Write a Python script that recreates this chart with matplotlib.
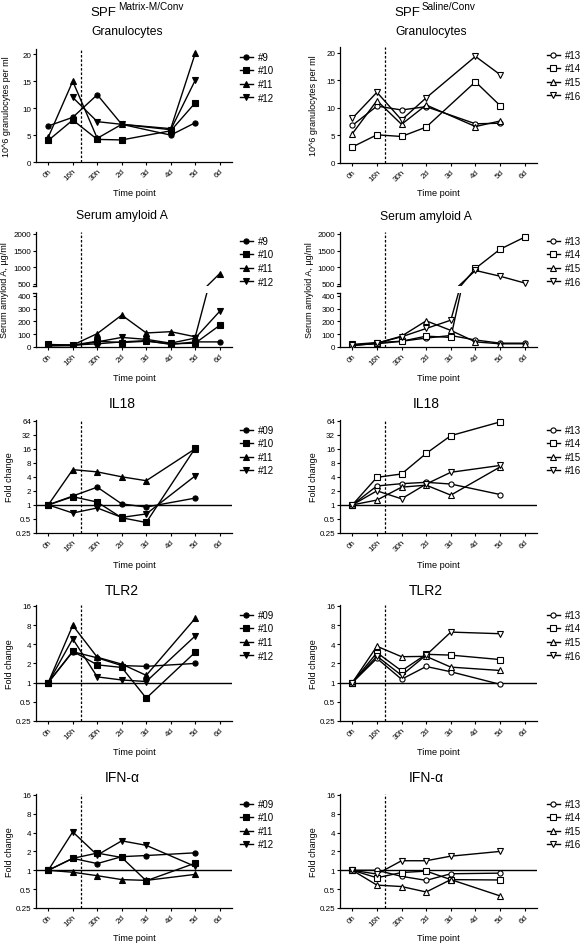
import numpy as np
import matplotlib
matplotlib.use('Agg')
import matplotlib.pyplot as plt
from matplotlib.lines import Line2D

plt.rcParams['font.family'] = ['Liberation Sans', 'DejaVu Sans']

nan = np.nan
W, H = 585, 945

time_points = ['0h', '16h', '30h', '2d', '3d', '4d', '5d', '6d']
ids_left_a = ['#9', '#10', '#11', '#12']
ids_left_b = ['#09', '#10', '#11', '#12']
ids_right = ['#13', '#14', '#15', '#16']

# Granulocytes (10^6 per ml)
gran_left = [
    [6.7, 8.3, 12.5, 7.0, nan, 5.0, 7.3, nan],
    [4.0, 7.8, 4.2, 4.1, nan, 5.8, 11.0, nan],
    [4.6, 15.0, 4.4, 7.0, nan, 6.2, 20.2, nan],
    [nan, 12.0, 7.5, 7.0, nan, 6.0, 15.2, nan],
]
gran_right = [
    [6.8, 10.3, 9.6, 10.2, nan, 7.1, 7.2, nan],
    [2.9, 5.1, 4.8, 6.5, nan, 14.7, 10.4, nan],
    [5.3, 11.3, 7.0, 10.5, nan, 6.6, 7.6, nan],
    [8.1, 12.8, 7.8, 11.8, nan, 19.3, 16.0, nan],
]
# Serum amyloid A (ug/ml)
saa_left = [
    [15, 15, 25, 40, 50, 20, 40, 40],
    [20, 15, 45, 35, 45, 25, 30, 170],
    [10, 15, 105, 250, 110, 120, 80, 805],
    [10, 10, 40, 75, 60, 30, 70, 280],
]
saa_right = [
    [15, 25, 45, 70, 90, 55, 30, 30],
    [20, 35, 45, 85, 75, 960, 1540, 1905],
    [10, 30, 85, 205, 130, 40, 25, 25],
    [15, 30, 80, 145, 210, 900, 725, 520],
]
# Fold changes
il18_left = [
    [1, 1.55, 2.4, 1.05, 0.9, nan, 1.4, nan],
    [1, 1.5, 1.15, 0.53, 0.42, nan, 16.5, nan],
    [1, 5.7, 5.1, 4.0, 3.3, nan, 16.0, nan],
    [1, 0.67, 0.86, 0.54, 0.64, nan, 4.2, nan],
]
il18_right = [
    [1, 2.55, 2.85, 3.05, 2.8, nan, 1.67, nan],
    [1, 3.9, 4.6, 12.7, 30.5, nan, 60.0, nan],
    [1, 1.27, 2.4, 2.65, 1.62, nan, 6.5, nan],
    [1, 2.0, 1.35, 2.8, 5.0, nan, 7.0, nan],
]
tlr2_left = [
    [1, 3.05, 2.45, 1.85, 1.8, nan, 2.0, nan],
    [1, 3.1, 1.9, 1.73, 0.57, nan, 3.0, nan],
    [1, 7.9, 2.5, 1.95, 1.3, nan, 10.2, nan],
    [1, 4.85, 1.23, 1.1, 1.04, nan, 5.4, nan],
]
tlr2_right = [
    [1, 2.4, 1.13, 1.79, 1.48, nan, 0.94, nan],
    [1, 2.95, 1.53, 2.78, 2.7, nan, 2.3, nan],
    [1, 3.72, 2.55, 2.58, 1.75, nan, 1.55, nan],
    [1, 2.6, 1.3, 2.7, 6.2, nan, 5.85, nan],
]
ifna_left = [
    [1, 1.55, 1.28, 1.65, 1.72, nan, 1.9, nan],
    [1, 1.55, 1.88, 1.6, 0.68, nan, 1.3, nan],
    [1, 0.93, 0.82, 0.71, 0.69, nan, 0.86, nan],
    [1, 4.1, 1.75, 2.95, 2.5, nan, 1.15, nan],
]
ifna_right = [
    [1, 1.0, 0.8, 0.69, 0.88, nan, 0.9, nan],
    [1, 0.76, 0.92, 0.97, 0.71, nan, 0.7, nan],
    [1, 0.58, 0.55, 0.45, 0.71, nan, 0.39, nan],
    [1, 0.87, 1.42, 1.42, 1.68, nan, 2.0, nan],
]

markers = ['o', 's', '^', 'v']
vline_x = 1.33

fig = plt.figure(figsize=(W / 100, H / 100), dpi=100)


def px_axes(x0, y0, x1, y1):
    return fig.add_axes([x0 / W, 1 - y1 / H, (x1 - x0) / W, (y1 - y0) / H])


def style(ax, xaxis=True):
    for s in ['top', 'right']:
        ax.spines[s].set_visible(False)
    for s in ['left', 'bottom']:
        ax.spines[s].set_linewidth(0.9)
    ax.tick_params(direction='out', length=2.5, width=0.8, labelsize=5.8, pad=1)
    ax.set_xlim(-0.5, 7.5)
    ax.set_xticks(range(len(time_points)))
    if xaxis:
        ax.set_xticklabels(time_points, rotation=45, ha='right', rotation_mode='anchor')
    else:
        ax.spines['bottom'].set_visible(False)
        ax.tick_params(axis='x', bottom=False, labelbottom=False)
    ax.patch.set_alpha(0)


def plot_series(ax, data, filled, clip=False):
    x = np.arange(len(time_points))
    for vals, m in zip(data, markers):
        y = np.array(vals, dtype=float)
        ok = ~np.isnan(y)
        ax.plot(x[ok], y[ok], color='black', lw=1.0, marker=m, ms=3.7,
                mfc='black' if filled else 'white', mec='black', mew=0.8,
                clip_on=clip, zorder=3)


def add_legend(labels, filled, x, y):
    handles = [Line2D([0], [0], color='black', lw=1.0, marker=m, ms=3.7,
                      mfc='black' if filled else 'white', mec='black', mew=0.8)
               for m in markers]
    fig.legend(handles, labels, loc='upper left', bbox_to_anchor=(x / W, 1 - y / H),
               frameon=False, fontsize=7, handlelength=1.3, handletextpad=0.55,
               labelspacing=0.36, borderpad=0, borderaxespad=0)


def title(text, x, y, size=8.7):
    fig.text(x / W, 1 - y / H, text, ha='center', va='baseline', fontsize=size)


def ylab(text, x, y):
    fig.text(x / W, 1 - y / H, text, ha='center', va='center', rotation=90, fontsize=6.5)


def log_axis(ax, ticks, labels, top):
    ax.set_yscale('log', base=2)
    ax.set_ylim(0.25, top)
    ax.set_yticks(ticks)
    ax.set_yticklabels(labels)
    ax.minorticks_off()
    ax.axhline(1, color='black', lw=1.0, zorder=2)


def group_title(sup, center_x):
    renderer = fig.canvas.get_renderer()
    t1 = fig.text(0, 1 - 16 / H, 'SPF', ha='left', va='baseline', fontsize=9.5)
    t2 = fig.text(0, 1 - 10.5 / H, sup, ha='left', va='baseline', fontsize=7.2)
    w1 = t1.get_window_extent(renderer).width
    w2 = t2.get_window_extent(renderer).width
    x0 = center_x - (w1 + w2 + 1) / 2
    t1.set_x(x0 / W)
    t2.set_x((x0 + w1 + 1) / W)


LX = (36, 232)
RX = (340, 537)

# ---- Row 1: Granulocytes ----
for (x0, x1), data, filled, (y0, y1), labels, lx in [
        (LX, gran_left, True, (50, 163), ids_left_a, 240),
        (RX, gran_right, False, (48, 164), ids_right, 547)]:
    ax = px_axes(x0, y0, x1, y1)
    style(ax)
    ax.set_ylim(0, 21)
    ax.set_yticks([0, 5, 10, 15, 20])
    ax.axvline(vline_x, color='black', lw=0.9, ls=(0, (2, 1.5)))
    plot_series(ax, data, filled)
    add_legend(labels, filled, lx, y0 + 3)
    ylab('10^6 granulocytes per ml', x0 - 29 if filled else x0 - 27, (y0 + y1) / 2)
    title('Time point', (x0 + x1) / 2, 196, 6.6)

group_title('Matrix-M/Conv', 137)
group_title('Saline/Conv', 435)
title('Granulocytes', 127, 35)
title('Granulocytes', 431, 35)

# ---- Row 2: Serum amyloid A (broken axis) ----
for (x0, x1), data, filled, labels, lx in [
        (LX, saa_left, True, ids_left_a, 240),
        (RX, saa_right, False, ids_right, 547)]:
    up = px_axes(x0, 233, x1, 287)
    lo = px_axes(x0, 294, x1, 348)
    style(up, xaxis=False)
    style(lo)
    up.set_ylim(430, 2060)
    up.set_yticks([500, 1000, 1500, 2000])
    lo.set_ylim(0, 423)
    lo.set_yticks([0, 100, 200, 300, 400])
    plot_series(up, data, filled, clip=True)
    plot_series(lo, data, filled, clip=True)
    lo.axvline(vline_x, ymin=0, ymax=(348 - 233) / (348 - 294), color='black',
               lw=0.9, ls=(0, (2, 1.5)), clip_on=False)
    for yy in (287, 294):
        fig.add_artist(Line2D([(x0 - 3) / W, x0 / W], [1 - yy / H, 1 - yy / H],
                              color='black', lw=0.9))
    add_legend(labels, filled, lx, 237)
    ylab('Serum amyloid A, µg/ml', x0 - 31 if filled else x0 - 30, 290)
    title('Time point', (x0 + x1) / 2, 381, 6.6)
title('Serum amyloid A', 122, 219)
title('Serum amyloid A', 426, 220)

# ---- Rows 3-5: fold changes ----
rows = [
    ('IL18', il18_left, il18_right, (421, 534), [0.25, 0.5, 1, 2, 4, 8, 16, 32, 64],
     ['0.25', '0.5', '1', '2', '4', '8', '16', '32', '64'], 66, 408, 568),
    ('TLR2', tlr2_left, tlr2_right, (606, 722), [0.25, 0.5, 1, 2, 4, 8, 16],
     ['0.25', '0.5', '1', '2', '4', '8', '16'], 16.5, 595, 755),
    ('IFN-α', ifna_left, ifna_right, (795, 909), [0.25, 0.5, 1, 2, 4, 8, 16],
     ['0.25', '0.5', '1', '2', '4', '8', '16'], 16.5, 782, 941),
]
for name, dl, dr, (y0, y1), ticks, tlabels, top, ty, tpy in rows:
    for (x0, x1), data, filled, labels, lx, tx in [
            (LX, dl, True, ids_left_b, 240, 122),
            (RX, dr, False, ids_right, 547, 426)]:
        ax = px_axes(x0, y0, x1, y1)
        style(ax)
        log_axis(ax, ticks, tlabels, top)
        ax.axvline(vline_x, color='black', lw=0.9, ls=(0, (2, 1.5)))
        plot_series(ax, data, filled)
        add_legend(labels, filled, lx, y0 + 5)
        ylab('Fold change', x0 - 26, (y0 + y1) / 2)
        title(name, tx, ty, 10)
        title('Time point', (x0 + x1) / 2, tpy, 6.6)

fig.savefig('out.png', dpi=100)
